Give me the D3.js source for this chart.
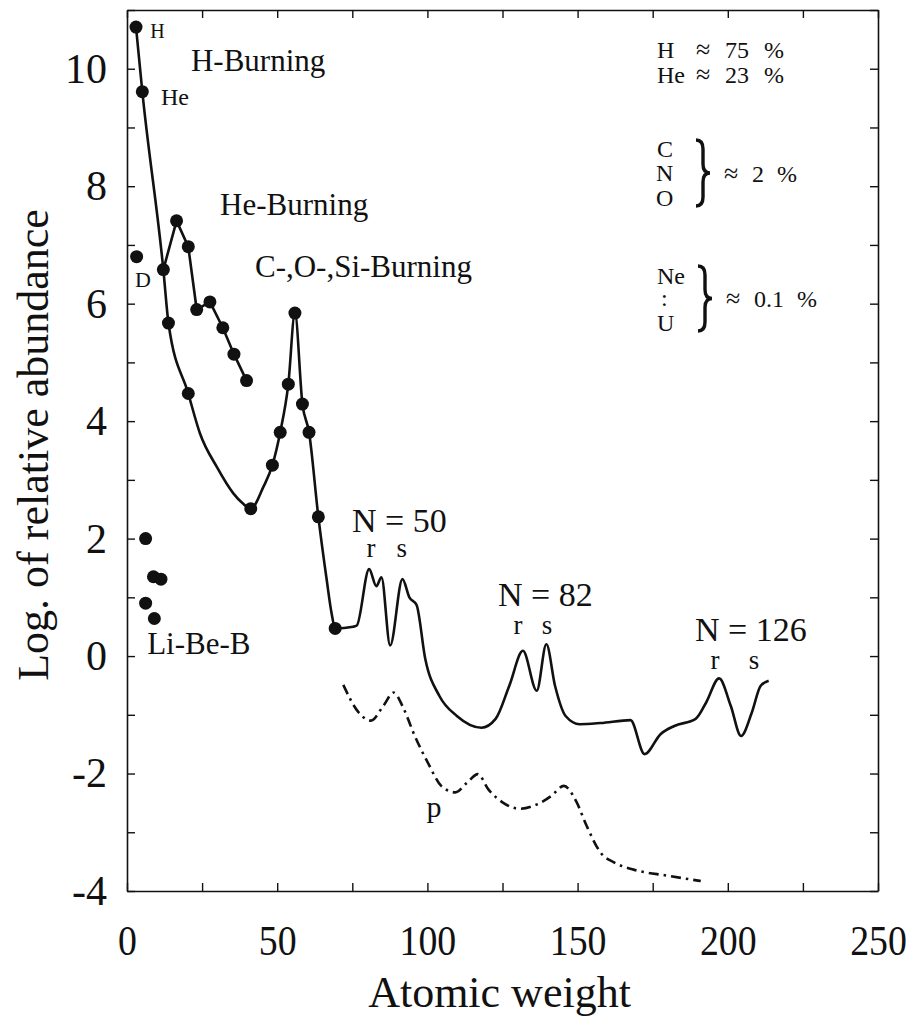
<!DOCTYPE html>
<html>
<head>
<meta charset="utf-8">
<script src="https://cdn.jsdelivr.net/npm/d3@7"></script>
<style>
  body { margin: 0; background: #fff; }
  text { font-family: "Liberation Serif", "DejaVu Serif", serif; fill: #111; }
</style>
</head>
<body>
<svg id="my-svg"></svg>
<script>
// measured abundances (dots)
let dotA   = [3.0, 5.1, 3.2, 12.1, 13.8, 16.5, 20.4, 20.4, 23.2, 27.6, 31.9, 35.6, 39.8,
              41.2, 48.4, 51.0, 53.7, 55.9, 58.4, 60.6, 63.7, 69.3,
              6.2, 8.8, 11.3, 6.2, 9.1];
let dotLog = [10.71, 9.61, 6.80, 6.58, 5.67, 7.41, 6.97, 4.47, 5.90, 6.03, 5.59, 5.14, 4.69,
              2.51, 3.25, 3.81, 4.63, 5.84, 4.29, 3.81, 2.37, 0.47,
              2.00, 1.35, 1.31, 0.90, 0.64];

// main abundance curve
let mainA   = [3.0, 5.1, 12.1, 13.8, 20.4, 24.3, 29.9, 35.4, 38.5, 41.2, 45.4, 48.4, 51.0, 53.7,
               55.9, 58.4, 60.6, 63.7, 66.5, 68.1, 69.3, 75.3, 76.5, 80.6, 83.0, 84.7, 87.6,
               91.7, 94.0, 96.4, 99.3, 104, 109.8, 118, 122.7, 127.3, 131.8, 136.4, 139.6,
               142.5, 146, 150.7, 157.7, 167.6, 172.3, 177.6, 182.2, 189.3, 192.8, 197.1,
               201, 204.4, 208, 210.9, 213.6];
let mainLog = [10.71, 9.61, 6.58, 5.67, 4.47, 3.79, 3.22, 2.77, 2.60, 2.51, 2.88, 3.25, 3.81, 4.63,
               5.84, 4.29, 3.81, 2.37, 1.29, 0.73, 0.47, 0.50, 0.52, 1.48, 1.19, 1.34, 0.18,
               1.31, 1.00, 0.87, -0.05, -0.68, -1.02, -1.22, -1.07, -0.50, 0.09, -0.59, 0.20,
               -0.51, -1.02, -1.16, -1.14, -1.09, -1.67, -1.33, -1.19, -1.07, -0.79, -0.38,
               -0.85, -1.36, -0.96, -0.51, -0.42];

// He-burning branch
let heBurnA   = [12.1, 16.5, 20.4, 23.2, 27.6, 31.9, 35.6, 39.8];
let heBurnLog = [6.58, 7.41, 6.97, 5.90, 6.03, 5.59, 5.14, 4.69];

// p-process curve
let pA   = [72, 77.1, 81.2, 85.3, 88.8, 91.7, 95.8, 100.4, 104.6, 109.3, 113.3, 116.8, 120.3,
            125, 130.8, 136.7, 141.3, 145.4, 149.5, 153, 157.7, 162.4, 168.2, 180, 191];
let pLog = [-0.49, -0.96, -1.10, -0.85, -0.62, -0.85, -1.36, -1.84, -2.21, -2.32, -2.15, -2.01, -2.27,
            -2.49, -2.60, -2.52, -2.38, -2.21, -2.47, -2.89, -3.35, -3.52, -3.63, -3.74, -3.83];

let xTicks = d3.range(0, 251, 25);
let yTicks = d3.range(-4, 12, 1);

// text notes inside the plot, in data units
let notes = [
  {t: 'H', a: 7.7, v: 10.52, s: 20, anchor: 'start'},
  {t: 'He', a: 11.3, v: 9.38, s: 24, anchor: 'start'},
  {t: 'H-Burning', a: 21.3, v: 9.96, s: 31, anchor: 'start'},
  {t: 'He-Burning', a: 31.0, v: 7.51, s: 31, anchor: 'start'},
  {t: 'C-,O-,Si-Burning', a: 42.6, v: 6.45, s: 31, anchor: 'start'},
  {t: 'D', a: 2.7, v: 6.28, s: 22, anchor: 'start'},
  {t: 'Li-Be-B', a: 6.7, v: 0.03, s: 31, anchor: 'start'},
  {t: 'N = 50', a: 74.9, v: 2.12, s: 34, anchor: 'start'},
  {t: 'r', a: 81.2, v: 1.68, s: 27, anchor: 'middle'},
  {t: 's', a: 91.5, v: 1.68, s: 27, anchor: 'middle'},
  {t: 'N = 82', a: 123.5, v: 0.85, s: 34, anchor: 'start'},
  {t: 'r', a: 130.2, v: 0.38, s: 27, anchor: 'middle'},
  {t: 's', a: 139.8, v: 0.38, s: 27, anchor: 'middle'},
  {t: 'N = 126', a: 189.1, v: 0.25, s: 34, anchor: 'start'},
  {t: 'r', a: 195.7, v: -0.22, s: 27, anchor: 'middle'},
  {t: 's', a: 208.7, v: -0.22, s: 27, anchor: 'middle'},
  {t: 'p', a: 102.2, v: -2.74, s: 30, anchor: 'middle'}
];

let oSvg = d3.select("#my-svg")
      .attr('width', 907)
      .attr('height', 1018);

oSvg.append('rect').attr('width', 907).attr('height', 1018).attr('fill', '#fff');

let x = d3.scaleLinear().domain([0, 250]).range([127, 878]);
let y = d3.scaleLinear().domain([-4, 11]).range([891, 10]);

// frame + ticks (all ticks point inward)
function styleAxis(g){
  g.selectAll('path.domain').attr('stroke', '#111').attr('stroke-width', 1.6);
  g.selectAll('.tick line').attr('stroke', '#111').attr('stroke-width', 1.4);
  g.selectAll('.tick text').attr('font-family', '"Liberation Serif", serif').attr('fill', '#111');
}

oSvg.append('g')
    .attr('transform', 'translate(0,' + y(-4) + ')')
    .call(d3.axisBottom(x).tickValues(xTicks).tickSize(-8).tickSizeOuter(0).tickPadding(34)
            .tickFormat(d => d % 50 === 0 ? String(d) : ''))
    .call(styleAxis)
    .selectAll('.tick text')
        .attr('font-size', 42)
        .attr('transform', 'scale(0.9,1)');

oSvg.append('g')
    .attr('transform', 'translate(0,' + y(11) + ')')
    .call(d3.axisTop(x).tickValues(xTicks).tickSize(-8).tickSizeOuter(0).tickFormat(''))
    .call(styleAxis);

oSvg.append('g')
    .attr('transform', 'translate(' + x(0) + ',0)')
    .call(d3.axisLeft(y).tickValues(yTicks).tickSize(-8).tickSizeOuter(0).tickPadding(20)
            .tickFormat(d => d % 2 === 0 ? String(d) : ''))
    .call(styleAxis)
    .selectAll('.tick text').attr('font-size', 42);

oSvg.append('g')
    .attr('transform', 'translate(' + x(250) + ',0)')
    .call(d3.axisRight(y).tickValues(yTicks).tickSize(-8).tickSizeOuter(0).tickFormat(''))
    .call(styleAxis);

// axis titles
oSvg.append('text')
    .attr('x', (x(0) + x(250)) / 2 - 3)
    .attr('y', 1007)
    .attr('text-anchor', 'middle')
    .attr('font-size', 44)
    .text('Atomic weight');

oSvg.append('text')
    .attr('transform', 'translate(48,445) rotate(-90)')
    .attr('text-anchor', 'middle')
    .attr('font-size', 44)
    .text('Log. of relative abundance');

// curves
let smooth = d3.line().x(d => x(d[0])).y(d => y(d[1])).curve(d3.curveMonotoneX);
let straight = d3.line().x(d => x(d[0])).y(d => y(d[1]));

oSvg.append('path')
    .attr('d', smooth(d3.zip(mainA, mainLog)))
    .attr('fill', 'none').attr('stroke', '#111').attr('stroke-width', 2.6)
    .attr('stroke-linejoin', 'round');

oSvg.append('path')
    .attr('d', straight(d3.zip(heBurnA, heBurnLog)))
    .attr('fill', 'none').attr('stroke', '#111').attr('stroke-width', 2.6);

oSvg.append('path')
    .attr('d', smooth(d3.zip(pA, pLog)))
    .attr('fill', 'none').attr('stroke', '#111').attr('stroke-width', 2.6)
    .attr('stroke-dasharray', '10,5,2.5,5');

oSvg.selectAll('circle.dot')
    .data(d3.zip(dotA, dotLog))
    .enter().append('circle')
        .attr('class', 'dot')
        .attr('cx', d => x(d[0]))
        .attr('cy', d => y(d[1]))
        .attr('r', 6.5)
        .attr('fill', '#111');

oSvg.selectAll('text.note')
    .data(notes)
    .enter().append('text')
        .attr('class', 'note')
        .attr('x', d => x(d.a))
        .attr('y', d => y(d.v))
        .attr('font-size', d => d.s)
        .attr('text-anchor', d => d.anchor)
        .text(d => d.t);

// composition block, top right (pieces placed one by one, like the typeset original)
let comp = oSvg.append('g').attr('font-size', 24);
function put(tx, px, py, fs){
  let t = comp.append('text').attr('x', px).attr('y', py).text(tx);
  if(fs) t.attr('font-size', fs);
}
put('H', 657, 58);   put('≈', 696, 58, 26); put('75', 725, 58); put('%', 764, 58);
put('He', 657, 83);  put('≈', 696, 83, 26); put('23', 725, 83); put('%', 764, 83);
put('C', 657, 157);  put('N', 656, 181);   put('O', 656, 206);
put('≈', 724, 182, 26); put('2', 752, 182); put('%', 777, 182);
put('Ne', 657, 284); put(':', 661, 306);   put('U', 657, 331);
put('≈', 726, 307, 26); put('0.1', 754, 307); put('%', 797, 307);

function brace(xb, y0, y1){
  let w = 14, r = 9, m = (y0 + y1) / 2, h = xb + w / 2;
  comp.append('path')
      .attr('d', 'M' + xb + ',' + y0 + ' Q' + h + ',' + y0 + ' ' + h + ',' + (y0 + r) +
                 ' L' + h + ',' + (m - r) + ' Q' + h + ',' + m + ' ' + (xb + w) + ',' + m +
                 ' Q' + h + ',' + m + ' ' + h + ',' + (m + r) +
                 ' L' + h + ',' + (y1 - r) + ' Q' + h + ',' + y1 + ' ' + xb + ',' + y1)
      .attr('fill', 'none').attr('stroke', '#111').attr('stroke-width', 3.4);
}
brace(696, 140, 206);
brace(698, 266, 331);
</script>
</body>
</html>
